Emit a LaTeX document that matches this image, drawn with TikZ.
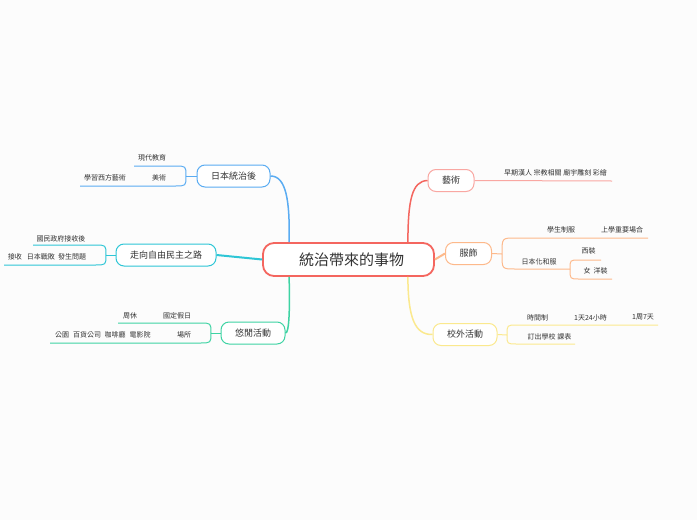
\documentclass[tikz,border=0pt]{standalone}
\usepackage{fontspec}
\setmainfont{Noto Sans CJK TC}
\usepackage{tikz}
\usetikzlibrary{positioning,calc}
\definecolor{rootc}{HTML}{F4665F}
\definecolor{bluec}{HTML}{5AACF2}
\definecolor{cyanc}{HTML}{2EC6D6}
\definecolor{greenc}{HTML}{3ED3A3}
\definecolor{pinkc}{HTML}{F9A7A2}
\definecolor{orangec}{HTML}{FDB98B}
\definecolor{yellowc}{HTML}{FBE98E}
\definecolor{textc}{HTML}{333333}
\definecolor{bgc}{HTML}{FCFCFC}
\tikzset{
  root/.style={draw=rootc,line width=1.8pt,fill=white,rounded corners=11pt,minimum width=171pt,minimum height=33pt,inner sep=0pt,font=\fontsize{15}{18}\selectfont,text=textc},
  topic/.style={draw=#1,line width=1pt,fill=white,rounded corners=8pt,minimum height=22pt,inner xsep=14pt,inner ysep=0pt,font=\fontsize{9}{11}\selectfont,text=textc},
  leaf/.style={inner sep=1pt,font=\fontsize{7}{8}\selectfont,text=textc},
  link/.style={draw=#1,line width=1.5pt},
  sub/.style={draw=#1,line width=1pt},
}
\newcommand{\leafn}[3]{\node[leaf] (#1) at (#2) {#3};}

\begin{document}
\begin{tikzpicture}[x=1pt,y=-1pt]
  \fill[bgc] (0,0) rectangle (697,520);
  \useasboundingbox (0,0) rectangle (697,520);
  % 中心與主題
  \node[root,text width=171pt,align=center] (c) at (348.5,259.5) {\hspace*{6pt}統治帶來的事物};
  \node[topic=bluec] (jp) at (233.5,176) {日本統治後};
  \node[topic=cyanc] (fz) at (166,255) {走向自由民主之路};
  \node[topic=greenc] (xx) at (253,333) {悠閒活動};
  \node[topic=pinkc] (ys) at (451,180.5) {藝術};
  \node[topic=orangec] (fs) at (468.5,253.5) {服飾};
  \node[topic=yellowc] (xw) at (465,334.5) {校外活動};
  % 中心連線
  \draw[link=bluec] ([xshift=27pt]c.north west) .. controls (290,200) and (286,176) .. (jp.east);
  \draw[link=cyanc,line width=2pt] (c.west) -- (fz.east);
  \draw[link=greenc] ([xshift=27pt]c.south west) .. controls (290,312) and (289,333) .. (xx.east);
  \draw[link=rootc] ([xshift=-27pt]c.north east) .. controls (408,200) and (412,181) .. (ys.west);
  \draw[link=orangec,line width=2pt] (c.east) -- (fs.west);
  \draw[link=yellowc] ([xshift=-27pt]c.south east) .. controls (408,318) and (415,335) .. (xw.west);
  % 日本統治後
  \coordinate (jpk) at (186,176);
  \draw[sub=bluec] (jp.west) -- (jpk);
  \draw[sub=bluec] (jpk) .. controls (186,166) .. (175,166) -- (134,166);
  \draw[sub=bluec] (jpk) .. controls (186,186) .. (175,186) -- (80,186);
  \leafn{jp1}{152,158}{現代教育}
  \leafn{jp2}{159,177.5}{美術}
  \leafn{jp3}{105,177.5}{學習西方藝術}
  % 走向自由民主之路
  \coordinate (fzk) at (106,255);
  \draw[sub=cyanc] (fz.west) -- (fzk);
  \draw[sub=cyanc] (fzk) .. controls (106,245) .. (95,245) -- (33,245);
  \draw[sub=cyanc] (fzk) .. controls (106,265) .. (95,265) -- (4,265);
  \leafn{fz1}{61,238.5}{國民政府接收後}
  \leafn{fz2}{72,257}{發生問題}
  \leafn{fz3}{41,257}{日本戰敗}
  \leafn{fz4}{15,257}{接收}
  % 悠閒活動
  \coordinate (xxk) at (211,333);
  \draw[sub=greenc] (xx.west) -- (xxk);
  \draw[sub=greenc] (xxk) .. controls (211,323) .. (200,323) -- (118,323);
  \draw[sub=greenc] (xxk) .. controls (211,343) .. (200,343) -- (50,343);
  \leafn{xx1}{177,315.5}{國定假日}
  \leafn{xx2}{130,315.5}{周休}
  \leafn{xx3}{184,335}{場所}
  \leafn{xx4}{140,335}{電影院}
  \leafn{xx5}{115,335}{咖啡廳}
  \leafn{xx6}{87,335}{百貨公司}
  \leafn{xx7}{62,335}{公園}
  % 藝術
  \coordinate (ysk) at (612,181);
  \draw[sub=pinkc] (ys.east) -- (ysk);
  \leafn{ys1}{555.5,173}{早期漢人 宗教相關 廟宇雕刻 彩繪}
  % 服飾
  \coordinate (fsk) at (502,254);
  \coordinate (fsj) at (570,269);
  \draw[sub=orangec] (fs.east) -- (fsk);
  \draw[sub=orangec] (fsk) .. controls (502,238) .. (515,238) -- (648,238);
  \draw[sub=orangec] (fsk) .. controls (502,269) .. (515,269) -- (fsj);
  \draw[sub=orangec] (fsj) .. controls (570,260) .. (579,260) -- (601,260);
  \draw[sub=orangec] (fsj) .. controls (570,279) .. (579,279) -- (612,279);
  \leafn{fs1}{561,230}{學生制服}
  \leafn{fs2}{622,230}{上學重要場合}
  \leafn{fs3}{539,262}{日本化和服}
  \leafn{fs4}{588.5,251}{西裝}
  \leafn{fs5}{587,271}{女}
  \leafn{fs6}{600.5,271}{洋裝}
  % 校外活動
  \coordinate (xwk) at (507,335);
  \draw[sub=yellowc] (xw.east) -- (xwk);
  \draw[sub=yellowc] (xwk) .. controls (507,325) .. (517,325) -- (658,325);
  \draw[sub=yellowc] (xwk) .. controls (507,344) .. (517,344) -- (575,344);
  \leafn{xw1}{537.5,317.5}{時間制}
  \leafn{xw2}{590.5,317.5}{1天24小時}
  \leafn{xw3}{643,317.5}{1周7天}
  \leafn{xw4}{549.5,337}{訂出學校 課表}
\end{tikzpicture}
\end{document}
